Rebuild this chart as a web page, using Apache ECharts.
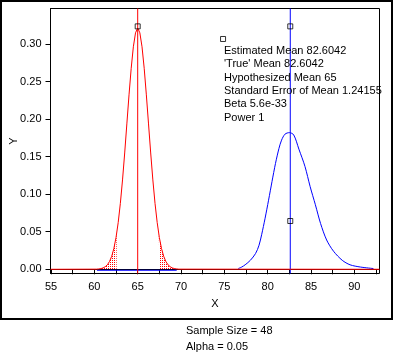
<!DOCTYPE html>
<html>
<head>
<meta charset="utf-8">
<script src="https://cdn.jsdelivr.net/npm/echarts@6/dist/echarts.min.js"></script>
<style>
html,body{margin:0;padding:0;background:#fff;}
#c{width:396px;height:355px;}
</style>
</head>
<body>
<div id="c"></div>
<script>
// ---- data ----
const xTickValues = [55, 57.5, 60, 62.5, 65, 67.5, 70, 72.5, 75, 77.5, 80, 82.5, 85, 87.5, 90, 92.5];
const xLabelValues = [55, 60, 65, 70, 75, 80, 85, 90];
const yLabelValues = [0, 0.05, 0.10, 0.15, 0.20, 0.25, 0.30];

// null (hypothesized) distribution, red
const nullX = [54.94, 60.25, 60.5, 60.75, 61, 61.25, 61.5, 61.75, 62, 62.25, 62.5, 62.75, 63, 63.25, 63.5, 63.75, 64, 64.25, 64.5, 64.75, 65,
  65.25, 65.5, 65.75, 66, 66.25, 66.5, 66.75, 67, 67.25, 67.5, 67.75, 68, 68.25, 68.5, 68.75, 69, 69.25, 69.5, 69.75, 92.9];
const nullY = [0, 0.0002, 0.0005, 0.0009, 0.0018, 0.0034, 0.0060, 0.0104, 0.0173, 0.0276, 0.0423, 0.0622, 0.0878, 0.1190, 0.1549, 0.1936, 0.2323, 0.2677, 0.2963, 0.3149, 0.3213,
  0.3149, 0.2963, 0.2677, 0.2323, 0.1936, 0.1549, 0.1190, 0.0878, 0.0622, 0.0423, 0.0276, 0.0173, 0.0104, 0.0060, 0.0034, 0.0018, 0.0009, 0.0005, 0.0002, 0];

// rejection tails (shaded)
const leftTailX = [60.5, 60.75, 61, 61.25, 61.5, 61.75, 62, 62.25, 62.5, 62.567];
const leftTailY = [0.0005, 0.0009, 0.0018, 0.0034, 0.0060, 0.0104, 0.0173, 0.0276, 0.0423, 0.0470];
const rightTailX = [67.433, 67.5, 67.75, 68, 68.25, 68.5, 68.75, 69, 69.25, 69.5];
const rightTailY = [0.0470, 0.0423, 0.0276, 0.0173, 0.0104, 0.0060, 0.0034, 0.0018, 0.0009, 0.0005];

// alternative ("true") distribution, blue
const altX = [76.6, 77.0, 77.4, 78.0, 78.6, 79.0, 79.3, 79.7, 80.1, 80.5, 80.9, 81.3, 81.6, 82.0, 82.5, 83.0, 83.6, 84.3, 84.9, 85.5, 86.1, 86.8, 87.6, 88.6, 89.5, 90.7, 92.2];
const altY = [0.001, 0.003, 0.006, 0.012, 0.021, 0.032, 0.046, 0.068, 0.092, 0.117, 0.141, 0.161, 0.172, 0.180, 0.182, 0.179, 0.160, 0.137, 0.110, 0.086, 0.061, 0.039, 0.024, 0.012, 0.006, 0.003, 0.001];

// blue baseline segment under the null curve
const baseX = [60.3, 69.5];
const baseY = [-0.0013, -0.0013];

const hypMean = 65;
const trueMean = 82.6042;
const markerX = [65, 82.6042, 82.6042, 74.85];
const markerY = [0.3235, 0.3235, 0.0643, 0.3067];

const infoLines = ['Estimated Mean 82.6042', "'True' Mean 82.6042", 'Hypothesized Mean 65', 'Standard Error of Mean 1.24155', 'Beta 5.6e-33', 'Power 1'];
const footLines = ['Sample Size = 48', 'Alpha = 0.05'];

// ---- build ----
const zip = (a, b) => a.map((v, i) => [v, b[i]]);
const pc = document.createElement('canvas');
pc.width = 2; pc.height = 2;
const pctx = pc.getContext('2d');
pctx.fillStyle = '#ff0000';
pctx.fillRect(0, 0, 1, 1);

const X_MIN = 54.94, X_MAX = 92.9;
const Y_MIN = -0.0056, Y_MAX = 0.3473;
const FONT = "'Liberation Sans', Arial, sans-serif";
const chart = echarts.init(document.getElementById('c'), null, {renderer: 'canvas'});
chart.setOption({
  animation: false,
  backgroundColor: '#fff',
  grid: {left: 50.5, top: 8.5, width: 329, height: 265, outerBoundsMode: 'none',
         show: true, borderColor: '#000', borderWidth: 1, backgroundColor: 'transparent'},
  xAxis: {
    type: 'value', min: X_MIN, max: X_MAX,
    name: 'X', nameLocation: 'middle', nameGap: 25, nameMoveOverlap: false,
    nameTextStyle: {color: '#000', fontSize: 11, fontFamily: FONT},
    splitLine: {show: false},
    axisLine: {show: true, lineStyle: {color: '#000', width: 1}},
    axisTick: {show: true, length: 5, customValues: xTickValues, lineStyle: {color: '#000'}},
    axisLabel: {customValues: xLabelValues, margin: 8, color: '#000', fontSize: 11, fontFamily: FONT}
  },
  yAxis: {
    type: 'value', min: Y_MIN, max: Y_MAX,
    name: 'Y', nameLocation: 'middle', nameGap: 31, nameMoveOverlap: false,
    nameTextStyle: {color: '#000', fontSize: 11, fontFamily: FONT},
    splitLine: {show: false},
    axisLine: {show: true, lineStyle: {color: '#000', width: 1}},
    axisTick: {show: true, length: 5, customValues: yLabelValues, lineStyle: {color: '#000'}},
    axisLabel: {customValues: yLabelValues, margin: 9, color: '#000', fontSize: 11, fontFamily: FONT,
      formatter: v => v.toFixed(2)}
  },
  series: [
    {type: 'line', data: zip(baseX, baseY), showSymbol: false, silent: true, z: 2,
     lineStyle: {color: '#0000ff', width: 1}},
    {type: 'line', data: zip(leftTailX, leftTailY), showSymbol: false, silent: true, z: 2,
     lineStyle: {width: 0}, areaStyle: {color: {image: pc, repeat: 'repeat'}, opacity: 1}},
    {type: 'line', data: zip(rightTailX, rightTailY), showSymbol: false, silent: true, z: 2,
     lineStyle: {width: 0}, areaStyle: {color: {image: pc, repeat: 'repeat'}, opacity: 1}},
    {type: 'line', data: zip(altX, altY), showSymbol: false, silent: true, smooth: 0.3, z: 3,
     color: '#0000ff', lineStyle: {color: '#0000ff', width: 1}},
    {type: 'line', data: [[trueMean, Y_MIN], [trueMean, Y_MAX]], showSymbol: false, silent: true, z: 3,
     color: '#0000ff', lineStyle: {color: '#0000ff', width: 1}},
    {type: 'line', data: zip(nullX, nullY), showSymbol: false, silent: true, z: 4,
     color: '#ff0000', lineStyle: {color: '#ff0000', width: 1}},
    {type: 'line', data: [[hypMean, Y_MIN], [hypMean, Y_MAX]], showSymbol: false, silent: true, z: 4,
     color: '#ff0000', lineStyle: {color: '#ff0000', width: 1}},
    {type: 'scatter', data: zip(markerX, markerY), symbol: 'rect', symbolSize: 5, silent: true, z: 6,
     itemStyle: {color: 'rgba(255,255,255,0)', borderColor: '#000', borderWidth: 1}}
  ],
  graphic: [
    {type: 'rect', shape: {x: 1, y: 1, width: 391, height: 318}, style: {fill: 'none', stroke: '#000', lineWidth: 2}, silent: true},
    {type: 'text', left: 224, top: 44.5, style: {text: infoLines.join('\n'), fill: '#000', font: '11px ' + FONT, lineHeight: 13.3}, z: 10},
    {type: 'text', left: 186, top: 322.5, style: {text: footLines.join('\n'), fill: '#000', font: '11px ' + FONT, lineHeight: 16}}
  ]
});
</script>
</body>
</html>
